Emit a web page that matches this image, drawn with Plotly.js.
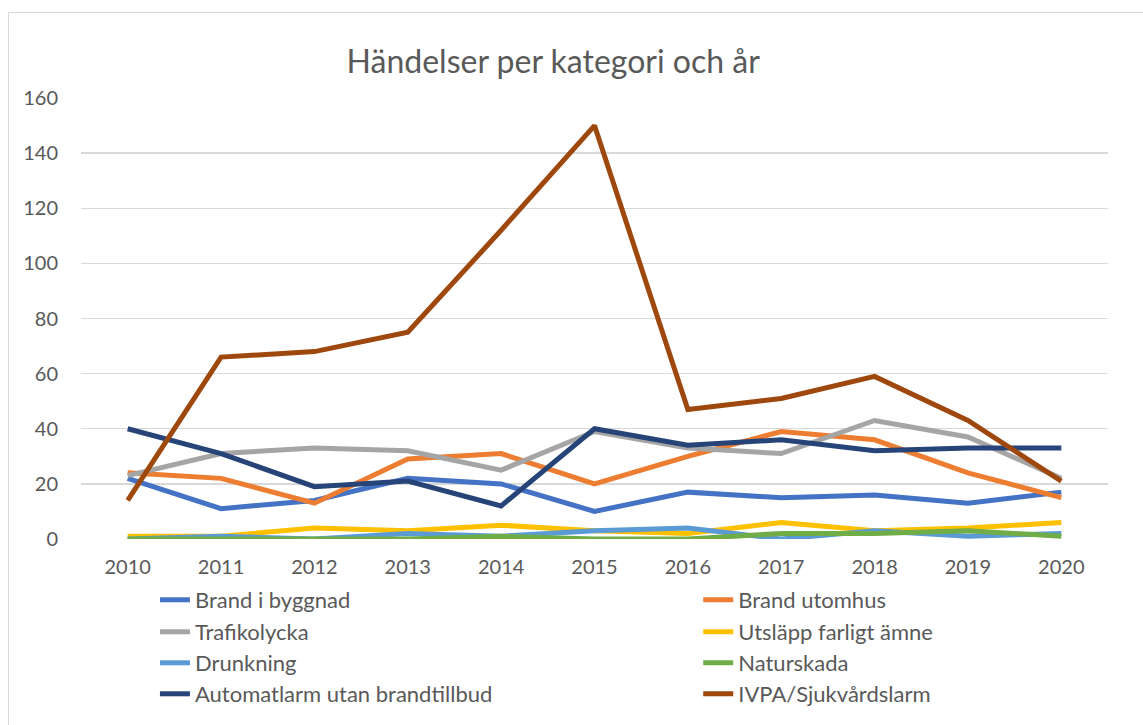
<!DOCTYPE html>
<html>
<head>
<meta charset="utf-8">
<script src="https://cdn.plot.ly/plotly-3.0.1.min.js"></script>
<style>
  html, body { margin: 0; padding: 0; background: #fff; }
  #frame { position: absolute; left: 8px; top: 12px; width: 1160px; height: 740px; border: 1.5px solid #d9d9d9; box-sizing: border-box; pointer-events: none; }
  #chart { position: absolute; left: 0; top: 0; width: 1143px; height: 725px; }
</style>
</head>
<body>
<div id="chart"></div>
<div id="frame"></div>
<script>
const years = ['2010','2011','2012','2013','2014','2015','2016','2017','2018','2019','2020'];

const brandIByggnad   = [22, 11, 14, 22, 20, 10, 17, 15, 16, 13, 17];
const brandUtomhus    = [24, 22, 13, 29, 31, 20, 30, 39, 36, 24, 15];
const trafikolycka    = [23, 31, 33, 32, 25, 39, 33, 31, 43, 37, 22];
const utslapp         = [1, 1, 4, 3, 5, 3, 2, 6, 3, 4, 6];
const drunkning       = [0, 1, 0, 2, 1, 3, 4, 0, 3, 1, 2];
const naturskada      = [0, 0, 0, 0, 1, 0, 0, 2, 2, 3, 1];
const automatlarm     = [40, 31, 19, 21, 12, 40, 34, 36, 32, 33, 33];
const ivpa            = [14, 66, 68, 75, 112, 150, 47, 51, 59, 43, 21];

const seriesNames = ['Brand i byggnad','Brand utomhus','Trafikolycka','Utsläpp farligt ämne','Drunkning','Naturskada','Automatlarm utan brandtillbud','IVPA/Sjukvårdslarm'];
const seriesData = [brandIByggnad, brandUtomhus, trafikolycka, utslapp, drunkning, naturskada, automatlarm, ivpa];
const colors = ['#4472C4','#ED7D31','#A5A5A5','#FFC000','#5B9BD5','#70AD47','#264478','#9E480E'];

const font = 'Lato, "Open Sans", "Liberation Sans", sans-serif';

const legendIds = ['legend','legend2','legend3','legend4','legend5','legend6','legend7','legend8'];
const traces = seriesNames.map((n, i) => ({
  x: years, y: seriesData[i], name: n, type: 'scatter', mode: 'lines',
  line: {color: colors[i], width: 5},
  legend: legendIds[i]
}));

const layout = {
  width: 1143, height: 725,
  margin: {l: 81, r: 35, t: 98, b: 185},
  paper_bgcolor: '#fff', plot_bgcolor: '#fff',
  font: {family: font, color: '#595959', size: 20},
  title: {text: 'Händelser per kategori och år', font: {family: font, size: 32, color: '#595959'}, x: 0.484, xanchor: 'center', y: 0.915, yanchor: 'middle'},
  xaxis: {type: 'category', range: [-0.5, 10.5], showgrid: false, zeroline: false, showline: false, ticks: '',
          tickfont: {size: 20, color: '#595959'}, ticklabelstandoff: 14, fixedrange: true},
  yaxis: {range: [0, 160], dtick: 20, showgrid: true, gridcolor: '#d9d9d9', gridwidth: 1.3, zeroline: false,
          showline: false, ticks: '', tickfont: {size: 20, color: '#595959'}, ticklabelstandoff: 22},
  showlegend: true
};

const colX = [0.072, 0.601];
const rowY = [-0.1357, -0.2081, -0.2783, -0.3484];
legendIds.forEach((id, i) => {
  layout[id] = {
    x: colX[i % 2], xanchor: 'left', y: rowY[Math.floor(i / 2)], yanchor: 'middle',
    orientation: 'v', font: {size: 22, color: '#595959', family: font},
    itemwidth: 30, bgcolor: 'rgba(0,0,0,0)', borderwidth: 0
  };
});

Plotly.newPlot('chart', traces, layout, {displayModeBar: false, staticPlot: true});
</script>
</body>
</html>
